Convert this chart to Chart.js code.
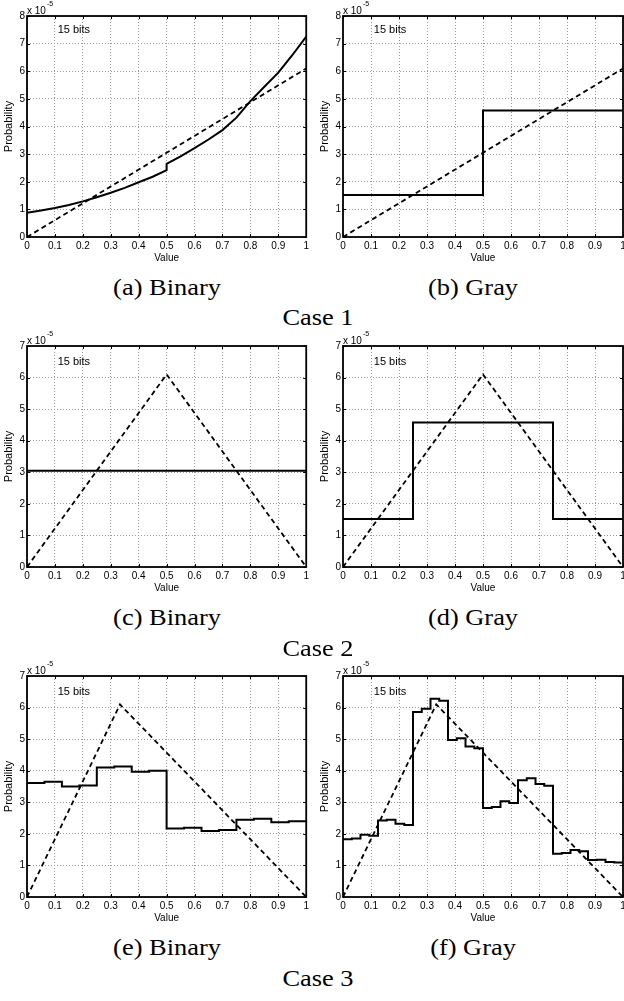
<!DOCTYPE html>
<html lang="en">
<head>
<meta charset="UTF-8">
<title>Probability vs Value, 15 bits</title>
<style>
    body { margin: 0; background: #fff; }
    #fig { position: relative; width: 624px; height: 1001px; overflow: hidden; background: #fff; }
    #fig canvas { position: absolute; }
    .cap {
        position: absolute;
        transform: translate(-50%, -50%) scaleX(1.1);
        font-family: 'Liberation Serif', 'Times New Roman', Times, serif;
        font-size: 24px;
        line-height: 1;
        white-space: nowrap;
        color: #000;
    }
</style>
</head>
<body>
<div id="fig">
    <canvas id="pa" width="312" height="267" style="left:0;top:0"></canvas>
    <canvas id="pb" width="316" height="267" style="left:316px;top:0"></canvas>
    <canvas id="pc" width="312" height="267" style="left:0;top:330px"></canvas>
    <canvas id="pd" width="316" height="267" style="left:316px;top:330px"></canvas>
    <canvas id="pe" width="312" height="267" style="left:0;top:660px"></canvas>
    <canvas id="pf" width="316" height="267" style="left:316px;top:660px"></canvas>

    <div class="cap" style="left:167px;top:287px">(a) Binary</div>
    <div class="cap" style="left:473px;top:287px">(b) Gray</div>
    <div class="cap" style="left:318px;top:317px">Case 1</div>
    <div class="cap" style="left:167px;top:617px">(c) Binary</div>
    <div class="cap" style="left:473px;top:617px">(d) Gray</div>
    <div class="cap" style="left:318px;top:648px">Case 2</div>
    <div class="cap" style="left:167px;top:947px">(e) Binary</div>
    <div class="cap" style="left:473px;top:947px">(f) Gray</div>
    <div class="cap" style="left:318px;top:978px">Case 3</div>
</div>

<script src="https://cdn.jsdelivr.net/npm/chart.js"></script>
<script>
    // axis ticks
    const X_TICK_VALUES = [0, 0.1, 0.2, 0.3, 0.4, 0.5, 0.6, 0.7, 0.8, 0.9, 1];
    const X_TICK_LABELS = ['0', '0.1', '0.2', '0.3', '0.4', '0.5', '0.6', '0.7', '0.8', '0.9', '1'];
    const Y_TICK_LABELS_8 = ['0', '1', '2', '3', '4', '5', '6', '7', '8'];
    const Y_TICK_LABELS_7 = ['0', '1', '2', '3', '4', '5', '6', '7'];

    // target distributions (dashed), values in units of 1e-5
    const TARGET1_X = [0, 1];
    const TARGET1_Y = [0, 6.1];
    const TARGET2_X = [0, 0.5, 1];
    const TARGET2_Y = [0, 6.1, 0];
    const TARGET3_X = [0, 0.333, 1];
    const TARGET3_Y = [0, 6.1, 0];

    // (a) Binary, case 1
    const A_X = [0, 0.05, 0.1, 0.15, 0.2, 0.25, 0.3, 0.35, 0.4, 0.45, 0.5, 0.5, 0.55, 0.6, 0.65, 0.7, 0.75, 0.8, 0.85, 0.9, 0.95, 1];
    const A_Y = [0.88, 0.96, 1.05, 1.16, 1.29, 1.44, 1.60, 1.78, 1.98, 2.18, 2.42, 2.65, 2.92, 3.22, 3.53, 3.87, 4.32, 4.92, 5.44, 5.95, 6.58, 7.25];

    // (b) Gray, case 1
    const B_X = [0, 0.5, 1];
    const B_Y = [1.52, 4.58, 4.58];

    // (c) Binary, case 2
    const C_X = [0, 1];
    const C_Y = [3.05, 3.05];

    // (d) Gray, case 2
    const D_X = [0, 0.25, 0.75, 1];
    const D_Y = [1.52, 4.58, 1.52, 1.52];

    // (e) Binary, case 3
    const E_X = [0, 0.0625, 0.125, 0.1875, 0.25, 0.3125, 0.375, 0.4375, 0.5, 0.5625, 0.625, 0.6875, 0.75, 0.8125, 0.875, 0.9375, 1];
    const E_Y = [3.61, 3.65, 3.50, 3.53, 4.10, 4.13, 3.97, 4.00, 2.17, 2.19, 2.09, 2.12, 2.45, 2.48, 2.37, 2.40, 2.40];

    // (f) Gray, case 3
    const F_X = [0, 0.03125, 0.0625, 0.09375, 0.125, 0.15625, 0.1875, 0.21875, 0.25, 0.28125, 0.3125, 0.34375,
                 0.375, 0.40625, 0.4375, 0.46875, 0.5, 0.53125, 0.5625, 0.59375, 0.625, 0.65625, 0.6875, 0.71875,
                 0.75, 0.78125, 0.8125, 0.84375, 0.875, 0.90625, 0.9375, 0.96875, 1];
    const F_Y = [1.83, 1.85, 1.97, 1.94, 2.42, 2.45, 2.32, 2.28, 5.86, 5.96, 6.28, 6.22,
                 4.97, 5.03, 4.77, 4.71, 2.82, 2.85, 3.03, 2.98, 3.70, 3.76, 3.58, 3.52,
                 1.37, 1.39, 1.49, 1.45, 1.17, 1.18, 1.11, 1.09, 1.09];

    const ANNOT_TEXT = '15 bits';
    const ANNOT_X = 0.11;

    const SANS = "'Liberation Sans', Arial, sans-serif";

    // frame, inward ticks, exponent and annotation, MATLAB style
    const matlabAxes = {
        id: 'matlabAxes',
        afterDraw(chart) {
            const ctx = chart.ctx;
            const a = chart.chartArea;
            const xs = chart.scales.x, ys = chart.scales.y;
            ctx.save();
            ctx.strokeStyle = '#000';
            ctx.lineWidth = 1;
            ctx.beginPath();
            X_TICK_VALUES.forEach(v => {
                const px = Math.round(xs.getPixelForValue(v)) + 0.5;
                ctx.moveTo(px, a.bottom); ctx.lineTo(px, a.bottom - 3);
                ctx.moveTo(px, a.top); ctx.lineTo(px, a.top + 3);
            });
            ys.ticks.forEach(t => {
                const py = Math.round(ys.getPixelForValue(t.value)) + 0.5;
                ctx.moveTo(a.left, py); ctx.lineTo(a.left + 3, py);
                ctx.moveTo(a.right, py); ctx.lineTo(a.right - 3, py);
            });
            ctx.stroke();

            ctx.lineWidth = 1.8;
            ctx.strokeRect(a.left, a.top, a.right - a.left, a.bottom - a.top);

            ctx.fillStyle = '#000';
            ctx.textBaseline = 'alphabetic';
            ctx.textAlign = 'left';
            ctx.font = '10px ' + SANS;
            ctx.fillText('x 10', a.left, a.top - 2);
            ctx.font = '7px ' + SANS;
            ctx.fillText('-5', a.left + 20, a.top - 10);

            ctx.font = '11px ' + SANS;
            ctx.textBaseline = 'middle';
            ctx.fillText(ANNOT_TEXT, xs.getPixelForValue(ANNOT_X), ys.getPixelForValue(ys.max - 0.5));
            ctx.restore();
        }
    };

    function points(xs, ys) {
        return xs.map((x, i) => ({ x: x, y: ys[i] }));
    }

    function makePanel(id, curveX, curveY, stepped, targetX, targetY, yLabels, padRight) {
        const ctx = document.getElementById(id).getContext('2d');
        new Chart(ctx, {
            type: 'line',
            data: {
                datasets: [{
                    data: points(targetX, targetY),
                    borderColor: '#000',
                    borderWidth: 1.8,
                    borderDash: [5, 3.5],
                    pointRadius: 0,
                    fill: false
                }, {
                    data: points(curveX, curveY),
                    borderColor: '#000',
                    borderWidth: 2,
                    stepped: stepped,
                    pointRadius: 0,
                    tension: 0,
                    fill: false
                }]
            },
            options: {
                responsive: false,
                animation: false,
                layout: { padding: { top: 16, right: padRight, left: 0, bottom: 0 } },
                plugins: { legend: { display: false }, tooltip: { enabled: false } },
                scales: {
                    x: {
                        type: 'linear',
                        min: 0,
                        max: 1,
                        afterBuildTicks: s => { s.ticks = X_TICK_VALUES.map(v => ({ value: v })); },
                        afterFit: s => { s.height = 30; },
                        ticks: {
                            autoSkip: false,
                            maxRotation: 0,
                            padding: 3,
                            color: '#000',
                            font: { family: SANS, size: 10 },
                            callback: (v, i) => X_TICK_LABELS[i]
                        },
                        grid: { color: '#9a9a9a', lineWidth: 1, drawTicks: false },
                        border: { display: false, dash: [1, 2] },
                        title: {
                            display: true,
                            text: 'Value',
                            color: '#000',
                            font: { family: SANS, size: 10 },
                            padding: { top: 0, bottom: 3 }
                        }
                    },
                    y: {
                        type: 'linear',
                        min: 0,
                        max: yLabels.length - 1,
                        afterFit: s => { s.width = 27; },
                        ticks: {
                            stepSize: 1,
                            padding: 2,
                            color: '#000',
                            font: { family: SANS, size: 10 },
                            callback: (v, i) => yLabels[i]
                        },
                        grid: { color: '#9a9a9a', lineWidth: 1, drawTicks: false },
                        border: { display: false, dash: [1, 2] },
                        title: {
                            display: true,
                            text: 'Probability',
                            color: '#000',
                            font: { family: SANS, size: 11 },
                            padding: { top: 2, bottom: 0 }
                        }
                    }
                }
            },
            plugins: [matlabAxes]
        });
    }

    makePanel('pa', A_X, A_Y, false, TARGET1_X, TARGET1_Y, Y_TICK_LABELS_8, 5);
    makePanel('pb', B_X, B_Y, true, TARGET1_X, TARGET1_Y, Y_TICK_LABELS_8, 9);
    makePanel('pc', C_X, C_Y, false, TARGET2_X, TARGET2_Y, Y_TICK_LABELS_7, 5);
    makePanel('pd', D_X, D_Y, true, TARGET2_X, TARGET2_Y, Y_TICK_LABELS_7, 9);
    makePanel('pe', E_X, E_Y, true, TARGET3_X, TARGET3_Y, Y_TICK_LABELS_7, 5);
    makePanel('pf', F_X, F_Y, true, TARGET3_X, TARGET3_Y, Y_TICK_LABELS_7, 9);
</script>
</body>
</html>
